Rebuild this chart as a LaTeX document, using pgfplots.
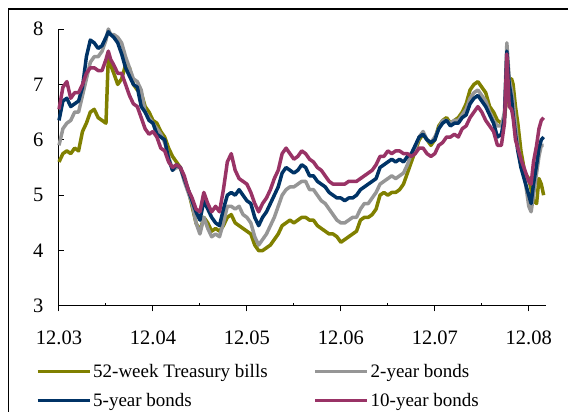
\documentclass[border=0pt]{standalone}
\usepackage{pgfplots}
\pgfplotsset{compat=1.18}
\usepackage{pgfplotstable}
\usepackage{fontspec}
\setmainfont{Liberation Serif}
\definecolor{colOlive}{RGB}{128,128,0}
\definecolor{colGray}{RGB}{150,150,150}
\definecolor{colNavy}{RGB}{0,51,102}
\definecolor{colMag}{RGB}{153,51,102}
\pgfplotstableread{
m ol gr nv mg
0 5.60 5.90 6.35 6.55
0.5 5.75 6.20 6.70 6.95
1 5.80 6.30 6.75 7.05
1.5 5.75 6.35 6.60 6.75
2 5.85 6.50 6.65 6.85
2.5 5.80 6.50 6.70 6.85
3 6.15 6.80 6.95 7.00
3.5 6.30 7.10 7.50 7.20
4 6.50 7.40 7.80 7.30
4.5 6.55 7.50 7.75 7.30
5 6.40 7.50 7.65 7.25
5.5 6.35 7.60 7.70 7.25
6 6.30 7.80 7.85 7.45
6.3 7.50 8.00 7.95 7.60
6.6 7.35 7.90 7.90 7.45
7 7.20 7.90 7.85 7.35
7.5 7.00 7.85 7.75 7.20
8 7.10 7.75 7.55 7.20
8.5 7.35 7.50 7.30 7.00
9 7.30 7.30 7.15 6.80
9.5 7.00 7.10 7.00 6.65
10 6.90 7.05 6.95 6.60
10.5 6.85 6.90 6.60 6.40
11 6.60 6.50 6.50 6.20
11.5 6.50 6.40 6.35 6.10
12 6.35 6.30 6.30 6.15
12.5 6.30 6.20 6.10 6.05
13 6.15 6.10 6.05 5.85
13.5 6.05 5.95 6.00 5.80
14 5.85 5.70 5.65 5.60
14.5 5.70 5.45 5.45 5.50
15 5.60 5.50 5.55 5.55
15.5 5.50 5.50 5.50 5.50
16 5.30 5.25 5.30 5.35
16.5 5.10 5.05 5.10 5.10
17 4.80 4.85 4.90 4.95
17.5 4.50 4.50 4.70 4.75
18 4.35 4.30 4.55 4.70
18.5 4.60 4.60 4.90 5.05
19 4.50 4.40 4.75 4.85
19.5 4.35 4.25 4.60 4.70
20 4.40 4.30 4.50 4.80
20.5 4.35 4.25 4.45 4.70
21 4.45 4.50 4.75 5.10
21.5 4.60 4.80 5.00 5.60
22 4.65 4.80 5.05 5.75
22.5 4.50 4.75 5.00 5.45
23 4.45 4.80 5.10 5.30
23.5 4.40 4.65 5.00 5.25
24 4.35 4.60 4.90 5.20
24.5 4.30 4.50 4.85 5.05
25 4.10 4.25 4.60 4.85
25.5 4.00 4.10 4.45 4.70
26 4.00 4.20 4.60 4.85
26.5 4.05 4.30 4.70 4.95
27 4.10 4.45 4.85 5.10
27.5 4.20 4.60 5.00 5.30
28 4.30 4.80 5.15 5.45
28.5 4.45 5.00 5.40 5.75
29 4.50 5.10 5.50 5.85
29.5 4.55 5.15 5.45 5.75
30 4.50 5.15 5.40 5.65
30.5 4.55 5.20 5.45 5.70
31 4.60 5.25 5.55 5.80
31.5 4.60 5.25 5.50 5.75
32 4.55 5.10 5.35 5.65
32.5 4.55 5.10 5.35 5.60
33 4.45 5.00 5.25 5.50
33.5 4.40 4.90 5.20 5.45
34 4.35 4.85 5.15 5.35
34.5 4.30 4.75 5.05 5.25
35 4.30 4.65 5.00 5.20
35.5 4.25 4.55 4.95 5.20
36 4.15 4.50 4.95 5.20
36.5 4.20 4.50 4.90 5.20
37 4.25 4.55 4.95 5.25
37.5 4.30 4.60 4.95 5.25
38 4.35 4.60 5.00 5.25
38.5 4.55 4.75 5.10 5.30
39 4.60 4.85 5.15 5.35
39.5 4.60 4.85 5.20 5.40
40 4.65 4.95 5.25 5.45
40.5 4.75 5.05 5.30 5.55
41 5.00 5.20 5.50 5.70
41.5 5.05 5.25 5.55 5.70
42 5.00 5.30 5.60 5.80
42.5 5.05 5.35 5.65 5.75
43 5.05 5.30 5.60 5.80
43.5 5.10 5.35 5.65 5.80
44 5.20 5.40 5.60 5.75
44.5 5.40 5.55 5.70 5.75
45 5.60 5.75 5.75 5.70
45.5 5.80 5.85 5.90 5.75
46 6.00 6.05 6.05 5.85
46.5 6.10 6.15 6.10 5.85
47 6.00 6.00 6.00 5.75
47.5 5.90 5.95 5.95 5.70
48 6.00 6.05 6.00 5.75
48.5 6.25 6.20 6.20 5.90
49 6.35 6.35 6.30 5.95
49.5 6.40 6.35 6.35 6.05
50 6.30 6.30 6.25 6.05
50.5 6.35 6.35 6.30 6.10
51 6.40 6.35 6.30 6.05
51.5 6.50 6.45 6.40 6.20
52 6.65 6.55 6.45 6.25
52.5 6.90 6.75 6.65 6.40
53 7.00 6.85 6.75 6.50
53.5 7.05 6.90 6.80 6.60
54 6.95 6.80 6.70 6.50
54.5 6.85 6.70 6.60 6.35
55 6.60 6.50 6.45 6.25
55.5 6.50 6.35 6.30 6.15
56 6.35 6.25 6.05 5.90
56.5 6.30 6.25 6.10 5.90
56.9 6.40 6.50 6.40 6.30
57.2 6.80 7.75 7.60 7.55
57.5 7.10 7.10 7.00 6.60
57.8 7.10 6.90 6.75 6.55
58 7.00 6.70 6.45 6.40
58.3 6.60 6.30 6.10 6.00
58.6 6.30 5.90 5.80 5.85
59 5.80 5.60 5.50 5.65
59.5 5.40 5.30 5.25 5.45
60 5.30 4.80 5.00 5.25
60.3 5.10 4.70 4.85 5.20
60.6 4.90 5.00 5.20 5.60
61 4.85 5.40 5.55 5.90
61.3 5.30 5.70 5.85 6.20
61.6 5.20 5.90 6.00 6.35
61.9 5.00 5.90 6.05 6.40
}\rates
\begin{document}
\begin{tikzpicture}
\begin{axis}[
  at={(0pt,0pt)}, anchor=south west, scale only axis,
  width=487pt, height=277pt,
  xmin=0, xmax=62.2, ymin=3, ymax=8,
  clip=false,
  axis x line*=bottom, axis y line*=left,
  x axis line style={-}, y axis line style={-},
  axis line style={line width=1pt, black},
  xtick={0,12,24,36,48,60},
  xticklabels={12.03,12.04,12.05,12.06,12.07,12.08},
  minor xtick={6,18,30,42,54},
  ytick={3,4,5,6,7,8},
  xtick align=outside, ytick align=inside,
  major tick length=5.5pt, minor tick length=3.3pt,
  every tick/.style={black, line width=1pt},
  minor x tick style={yshift=3.3pt},
  tick label style={font=\fontsize{20.5}{24}\selectfont},
  /pgf/number format/assume math mode=true,
  xticklabel style={yshift=-16pt},
  yticklabel style={xshift=-12pt},
  legend columns=2, legend cell align=left,
  legend image code/.code={\draw[#1, line width=3pt, line cap=butt] (0pt,0pt) -- (52pt,0pt);},
  legend style={draw=none, fill=none, at={(0,0)}, anchor=north west,
    xshift=-26pt, yshift=-53pt, font=\fontsize{19}{22}\selectfont,
    nodes={inner xsep=2pt, inner ysep=3pt},
    row sep=8.5pt,
    /tikz/every even column/.append style={column sep=44pt}},
  every axis plot/.append style={line width=3.5pt, line join=round, mark=none},
]
\addplot[colOlive] table[x=m, y=ol] {\rates};
\addlegendentry{52-week Treasury bills}
\addplot[colGray] table[x=m, y=gr] {\rates};
\addlegendentry{2-year bonds}
\addplot[colNavy] table[x=m, y=nv] {\rates};
\addlegendentry{5-year bonds}
\addplot[colMag] table[x=m, y=mg] {\rates};
\addlegendentry{10-year bonds}
\end{axis}
\draw[line width=1.2pt] (-50.5pt,-120pt) -- (-50.5pt,297pt) -- (520pt,297pt);
\pgfresetboundingbox
\path[use as bounding box] (-59pt,-106pt) rectangle (509pt,306pt);
\end{tikzpicture}
\end{document}
